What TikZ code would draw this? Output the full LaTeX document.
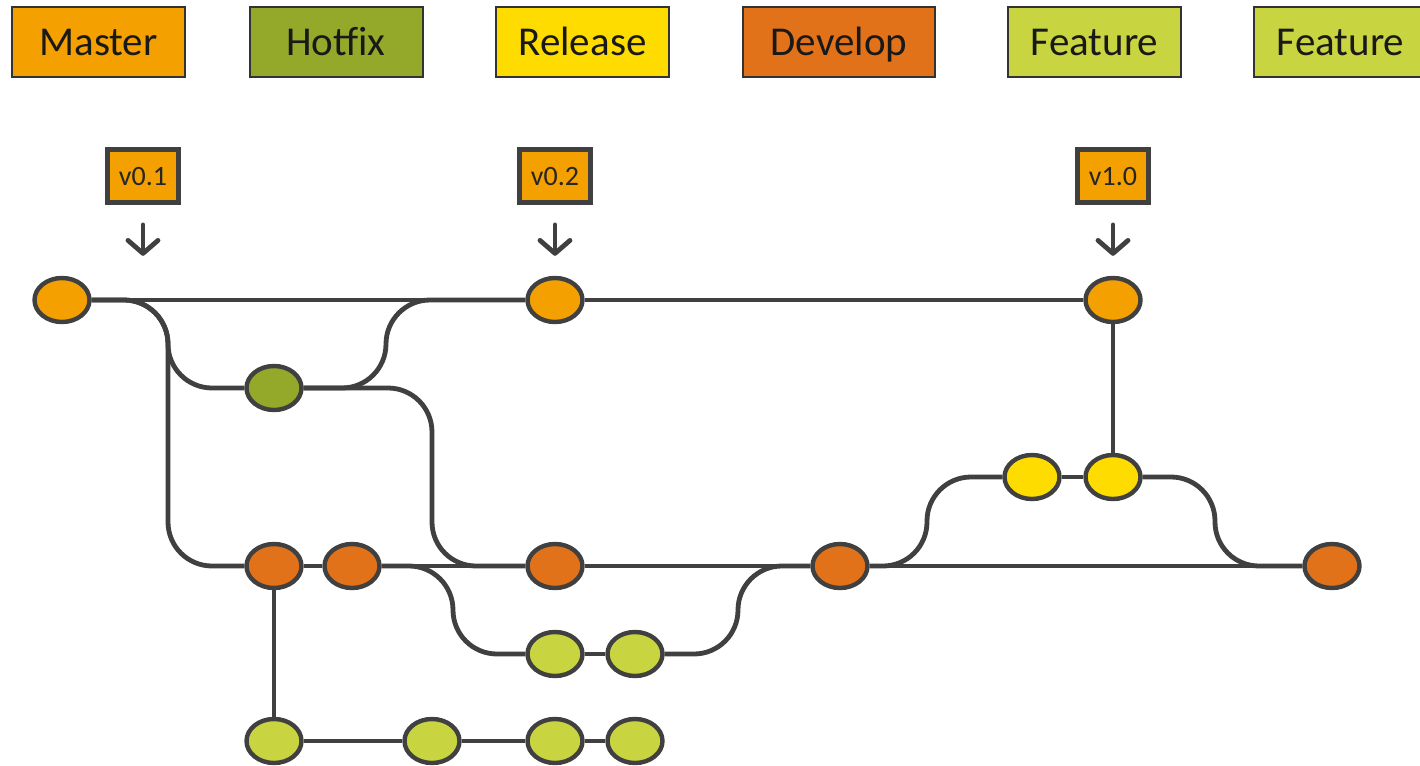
\documentclass[tikz,border=0pt]{standalone}
\usepackage{fontspec}
\setmainfont{Carlito}
\usepackage{xcolor}
\usepackage{tikz}
\usetikzlibrary{arrows.meta,shapes.geometric}

\definecolor{masterc}{RGB}{243,160,0}
\definecolor{hotfixc}{RGB}{148,168,42}
\definecolor{releasec}{RGB}{255,220,0}
\definecolor{developc}{RGB}{226,114,26}
\definecolor{featurec}{RGB}{200,212,64}
\definecolor{linegray}{RGB}{64,64,64}

\begin{document}
\begin{tikzpicture}[
    x=0.5pt, y=-0.5pt,
    legend/.style={rectangle, draw=black!80, line width=1pt, minimum width=86.5pt, minimum height=35pt, inner sep=0pt, text height=13pt, text depth=0pt, font=\fontsize{20.5}{24}\selectfont, text=black!90},
    tag/.style={rectangle, draw=linegray, fill=masterc, line width=2.4pt, minimum width=35.5pt, minimum height=26.5pt, inner sep=0pt, text height=9pt, text depth=0pt, font=\fontsize{14}{16}\selectfont, text=black!85},
    commit/.style={ellipse, draw=linegray, line width=2.2pt, minimum width=27.5pt, minimum height=22pt, inner sep=0pt},
    mc/.style={commit, fill=masterc},
    hc/.style={commit, fill=hotfixc},
    rc/.style={commit, fill=releasec},
    dc/.style={commit, fill=developc},
    fc/.style={commit, fill=featurec},
    branch/.style={draw=linegray, line width=2.4pt, rounded corners=22pt},
    tagarrow/.style={draw=linegray, line width=2.4pt, line cap=round, -{Straight Barb[length=6.5pt,width=15pt,round]}, shorten <=10pt, shorten >=10pt}
  ]
    \fill[white] (0,0) rectangle (1420,766);
    \useasboundingbox (0,0) rectangle (1420,766);

    % legend
    \node[legend, fill=masterc] (lmaster) at (98.5,42) {Master};
    \node[legend, fill=hotfixc] (lhotfix) at (336,42) {Hotfix};
    \node[legend, fill=releasec] (lrelease) at (582.5,42) {Release};
    \node[legend, fill=developc, minimum width=96pt] (ldevelop) at (839,42) {Develop};
    \node[legend, fill=featurec] (lfeatA) at (1094.5,42) {Feature};
    \node[legend, fill=featurec] (lfeatB) at (1340.5,42) {Feature};

    % version tags
    \node[tag] (t1) at (143,176) {v0.1};
    \node[tag] (t2) at (555,176) {v0.2};
    \node[tag] (t3) at (1113,176) {v1.0};

    % commits
    \node[mc] (m1) at (62,300) {};
    \node[mc] (m2) at (555,300) {};
    \node[mc] (m3) at (1113,300) {};
    \node[hc] (h) at (274,388) {};
    \node[rc] (r1) at (1032,477) {};
    \node[rc] (r2) at (1113,477) {};
    \node[dc] (d1) at (274,566) {};
    \node[dc] (d2) at (352,566) {};
    \node[dc] (d3) at (555,566) {};
    \node[dc] (d4) at (840,566) {};
    \node[dc] (d5) at (1332,566) {};
    \node[fc] (f1) at (555,654) {};
    \node[fc] (f2) at (635,654) {};
    \node[fc] (g1) at (274,741) {};
    \node[fc] (g2) at (432,741) {};
    \node[fc] (g3) at (555,741) {};
    \node[fc] (g4) at (635,741) {};

    % bend columns
    \coordinate (c1) at (168,0);
    \coordinate (c2) at (386,0);
    \coordinate (c3) at (432,0);
    \coordinate (c4) at (453,0);
    \coordinate (c5) at (738,0);
    \coordinate (c6) at (927,0);
    \coordinate (c7) at (1215,0);

    % tag arrows
    \draw[tagarrow] (t1.south) -- (t1.south |- m1.north);
    \draw[tagarrow] (t2.south) -- (m2.north);
    \draw[tagarrow] (t3.south) -- (m3.north);

    % straight lines
    \draw[branch] (m1) -- (m2);
    \draw[branch] (m2) -- (m3);
    \draw[branch] (m3) -- (r2);
    \draw[branch] (r1) -- (r2);
    \draw[branch] (d1) -- (d2);
    \draw[branch] (d2) -- (d3);
    \draw[branch] (d3) -- (d4);
    \draw[branch] (d4) -- (d5);
    \draw[branch] (f1) -- (f2);
    \draw[branch] (d1) -- (g1);
    \draw[branch] (g1) -- (g2);
    \draw[branch] (g2) -- (g3);
    \draw[branch] (g3) -- (g4);

    % bent lines
    \draw[branch] (m1) -| (h -| c1) -- (h);
    \draw[branch] (m1) -| (d1 -| c1) -- (d1);
    \draw[branch] (h) -| (m2 -| c2) -- (m2);
    \draw[branch] (h) -| (d3 -| c3) -- (d3);
    \draw[branch] (d2) -| (f1 -| c4) -- (f1);
    \draw[branch] (f2) -| (d4 -| c5) -- (d4);
    \draw[branch] (d4) -| (r1 -| c6) -- (r1);
    \draw[branch] (r2) -| (d5 -| c7) -- (d5);
  \end{tikzpicture}
\end{document}
